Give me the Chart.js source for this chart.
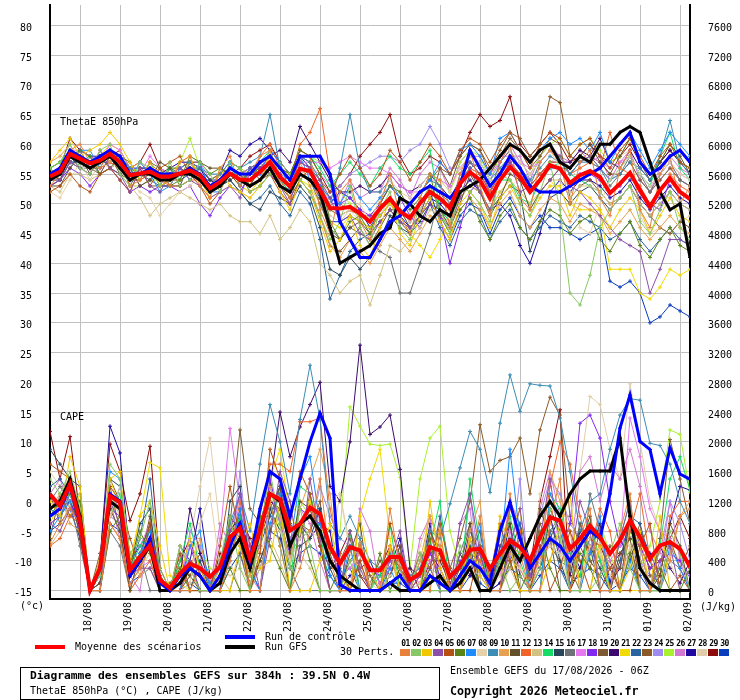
<!DOCTYPE html>
<html><head><meta charset="utf-8">
<script src="https://cdn.jsdelivr.net/npm/chart.js@4.4.1/dist/chart.umd.min.js"></script>
<style>
html,body{margin:0;padding:0;background:#fff;}
#wrap{position:relative;width:740px;height:700px;overflow:hidden;font-family:"DejaVu Sans Mono",monospace;color:#000;}
#c{position:absolute;left:0;top:0;}
.t{position:absolute;font-size:10px;line-height:12px;white-space:nowrap;}
.b{font-weight:bold;}
.ln{position:absolute;height:4px;}
#box{position:absolute;left:20px;top:667px;width:418px;height:31px;border:1px solid #000;}
#sw{position:absolute;left:400px;top:638px;}
.num{position:absolute;top:0;width:11px;font-size:8px;line-height:11px;font-weight:bold;text-align:center;letter-spacing:-0.5px;}
.sq{position:absolute;top:11px;width:10px;height:7px;}
</style></head>
<body><div id="wrap">
<canvas id="c" width="740" height="700"></canvas>
<div class="t" style="left:60px;top:116px">ThetaE 850hPa</div>
<div class="t" style="left:60px;top:411px">CAPE</div>
<div class="t" style="left:20px;top:600px">(°c)</div>
<div class="t" style="left:700px;top:601px">(J/kg)</div>
<div class="ln" style="left:35px;top:645px;width:30px;background:#ff0000"></div>
<div class="t" style="left:75px;top:641px">Moyenne des scénarios</div>
<div class="ln" style="left:225px;top:635px;width:30px;background:#0000ff"></div>
<div class="ln" style="left:225px;top:645px;width:30px;background:#000"></div>
<div class="t" style="left:265px;top:631px">Run de contrôle</div>
<div class="t" style="left:265px;top:641px">Run GFS</div>
<div class="t" style="left:340px;top:646px">30 Perts.</div>
<div id="sw"></div>
<div id="box"></div>
<div class="t b" style="left:30px;top:670px;font-size:11.3px">Diagramme des ensembles GEFS sur 384h : 39.5N 0.4W</div>
<div class="t" style="left:30px;top:685px">ThetaE 850hPa (°C) , CAPE (J/kg)</div>
<div class="t" style="left:450px;top:665px">Ensemble GEFS du 17/08/2026 - 06Z</div>
<div class="t b" style="left:450px;top:685px;font-size:11.6px">Copyright 2026 Meteociel.fr</div>
</div>
<script>
// ---------- DATA ----------
const leadHours = [0,6,12,18,24,30,36,42,48,54,60,66,72,78,84,90,96,102,108,114,120,126,132,138,144,150,156,162,168,174,180,186,192,198,204,210,216,222,228,234,240,246,252,258,264,270,276,282,288,294,300,306,312,318,324,330,336,342,348,354,360,366,372,378,384];
const dateLabels = ["18/08","19/08","20/08","21/08","22/08","23/08","24/08","25/08","26/08","27/08","28/08","29/08","30/08","31/08","01/09","02/09"];
const dateTickHours = [18,42,66,90,114,138,162,186,210,234,258,282,306,330,354,378];
const leftTicks = [-15,-10,-5,0,5,10,15,20,25,30,35,40,45,50,55,60,65,70,75,80];
const rightTicks = [0,400,800,1200,1600,2000,2400,2800,3200,3600,4000,4400,4800,5200,5600,6000,6400,6800,7200,7600];
const memberNames = ["01","02","03","04","05","06","07","08","09","10","11","12","13","14","15","16","17","18","19","20","21","22","23","24","25","26","27","28","29","30"];

// ThetaE 850hPa (°C)
const teMean = [54.6,55.4,58.4,57.6,56.8,57.3,58.4,57.0,54.8,55.1,55.4,54.6,54.6,55.1,55.6,54.8,52.6,53.7,55.1,54.1,54.0,55.4,57.0,54.5,52.9,55.9,55.5,52.3,49.3,49.2,49.5,48.4,47.0,49.2,50.9,48.7,47.6,50.1,52.0,50.9,49.3,53.4,55.3,54.0,50.9,54.0,56.2,54.5,52.0,54.0,56.5,55.9,53.5,54.8,55.5,54.5,51.8,53.4,55.2,52.3,49.5,52.3,54.3,52.0,50.8];
const teCtrl = [55,56,59,58,57,58,59,58,55,55,56,55,55,55,56,55,53,54,56,55,55,57,58,56,54,58,58,58,55,47,44,41,41,44,47,48,50,52,53,52,51,53,59,56,53,55,58,56,53,52,52,52,53,54,55,56,58,60,62,57,55,56,58,59,57];
const teGfs = [54,55,58,57,56,57,58,56,54,55,55,54,54,55,55,54,52,53,55,54,53,54,56,53,52,55,54,52,46,40,41,42,43,45,46,51,50,48,47,49,48,52,53,54,56,58,60,59,57,59,60,57,56,58,57,60,60,62,63,62,57,52,49,50,41];
const te01 = [53,55,59,60,57,56,59,58,53,54,57,55,53,57,58,53,51,56,58,53,55,58,59,54,51,58,58,49,45,52,54,47,44,50,55,48,45,51,55,54,46,55,59,53,48,57,60,51,49,57,59,57,50,57,59,51,48,56,59,49,46,55,58,50,53];
const te02 = [56,57,60,56,55,59,60,55,53,57,56,53,57,53,54,57,55,52,57,56,52,53,55,57,55,54,52,48,44,47,53,46,43,49,52,46,44,50,53,49,45,53,52,50,47,55,54,50,48,52,57,49,35,33,38,46,49,51,53,47,45,49,52,46,44];
const te03 = [57,59,61,58,59,60,62,60,57,54,57,53,54,57,58,54,51,56,53,52,51,53,59,52,49,54,52,47,42,44,48,43,41,46,51,45,43,48,51,47,44,50,52,50,46,51,53,50,48,51,53,53,48,52,51,49,46,49,51,49,45,48,51,48,47];
const te04 = [53,54,57,56,55,59,56,55,52,56,53,52,55,56,54,53,51,52,53,51,56,57,55,53,50,57,56,54,51,47,48,45,44,47,49,47,46,48,50,48,46,51,56,52,49,54,57,52,53,52,54,56,53,52,50,48,46,44,43,42,35,39,44,44,43];
const te05 = [52,53,55,53,52,55,56,54,52,56,53,56,57,58,55,53,50,52,56,55,52,53,55,52,50,54,56,54,52,55,58,56,53,55,59,57,54,57,60,58,55,59,61,60,57,60,62,59,56,60,62,61,58,60,61,58,56,59,61,58,55,58,60,57,56];
const te06 = [56,57,58,59,58,55,56,58,57,54,57,56,53,54,58,57,55,56,55,56,53,57,58,56,55,59,58,55,47,44,47,48,45,50,53,52,49,51,55,48,45,49,51,47,44,48,50,46,44,47,49,48,45,47,48,44,42,45,47,43,41,44,46,43,42];
const te07 = [54,56,58,59,59,56,59,56,54,57,55,52,53,56,54,57,52,52,57,53,56,55,59,57,52,58,54,53,51,50,53,51,49,51,53,51,50,52,54,57,55,59,60,58,55,61,62,59,57,59,61,62,60,61,59,62,57,60,62,59,56,59,62,60,58];
const te08 = [52,51,54,57,54,57,56,57,54,52,51,48,50,52,53,55,51,52,53,52,51,53,55,56,52,55,56,54,50,48,49,50,47,51,54,52,51,53,55,54,52,56,58,57,54,54,59,57,55,57,59,56,52,46,45,50,54,56,58,55,53,55,57,55,54];
const te09 = [55,56,58,58,57,58,59,58,56,55,56,55,55,56,57,56,55,55,57,56,57,58,65,56,54,58,57,54,50,56,65,56,52,52,54,51,50,52,54,53,50,54,56,57,54,56,58,56,54,56,58,57,55,57,57,56,54,55,57,56,54,58,64,57,55];
const te10 = [57,58,60,57,56,59,57,58,56,57,55,56,54,54,57,54,52,55,57,56,53,54,58,53,54,57,53,48,43,41,44,42,40,43,46,44,42,45,48,47,44,49,51,49,46,50,52,48,46,49,51,50,47,50,49,48,45,47,49,46,44,46,48,46,45];
const te11 = [53,53,56,58,55,58,56,55,56,53,54,57,56,53,57,57,56,56,55,53,56,54,55,56,55,58,57,51,45,44,46,47,45,47,49,49,46,48,53,49,46,50,55,52,48,51,55,54,49,52,54,56,56,58,60,57,55,58,61,57,54,57,60,58,55];
const te12 = [55,55,58,57,56,56,57,56,54,54,55,54,53,53,54,54,52,53,55,54,53,58,60,56,54,60,62,66,55,50,49,48,47,49,51,49,48,50,53,52,50,54,56,55,52,55,57,55,53,55,57,57,55,56,57,56,62,56,55,53,50,52,55,53,52];
const te13 = [53,52,55,55,54,55,56,55,53,51,48,50,51,52,51,50,49,50,48,47,47,45,48,44,46,49,47,40,38,35,37,38,33,38,43,42,44,46,49,48,47,51,53,52,49,52,54,52,50,52,54,54,51,53,53,52,50,51,53,50,48,50,52,50,49];
const te14 = [56,57,59,57,58,56,59,58,56,54,57,54,56,54,57,54,52,55,57,53,56,57,59,54,52,58,58,56,53,55,57,55,53,56,58,56,55,57,59,49,47,53,56,52,49,54,54,51,50,54,56,57,55,54,53,52,54,56,58,55,53,58,62,56,54];
const te15 = [53,54,58,56,57,55,56,57,53,56,56,53,53,53,54,56,54,53,54,52,50,49,52,51,50,53,51,46,39,38,41,39,41,44,48,46,45,47,50,49,47,51,53,52,49,51,53,52,42,47,51,52,50,52,53,51,49,51,53,50,48,50,52,50,49];
const te16 = [54,54,57,56,56,57,58,57,54,54,55,55,54,55,55,56,54,54,55,54,53,54,56,54,52,55,54,50,46,44,46,45,44,42,41,35,35,40,45,52,49,55,57,56,52,57,59,56,53,57,59,58,55,57,58,56,53,55,58,55,52,55,57,54,53];
const te17 = [55,56,59,59,58,57,60,59,56,55,58,56,55,56,57,57,54,54,56,55,56,57,57,56,54,57,57,57,56,57,58,57,56,56,55,53,52,52,54,54,53,56,58,58,55,57,60,57,56,57,59,58,55,57,58,57,56,57,58,55,53,55,57,55,54];
const te18 = [54,54,56,55,53,55,56,54,52,53,52,53,53,52,53,50,48,51,53,52,55,56,57,55,54,57,56,53,50,50,51,49,48,50,53,51,48,46,50,48,40,46,52,54,52,55,57,54,52,54,56,56,53,55,55,54,52,53,55,52,50,49,54,52,51];
const te19 = [56,54,57,59,56,55,58,55,54,56,53,53,56,56,55,54,54,53,54,55,53,56,55,53,51,54,52,48,43,42,44,46,43,46,49,47,45,48,50,56,53,58,60,59,55,58,61,59,56,58,61,60,51,53,54,52,50,51,53,50,48,46,45,47,46];
const te20 = [54,56,58,57,56,58,58,58,56,55,56,55,56,55,56,54,52,54,55,55,56,57,58,59,57,63,60,57,54,52,52,53,52,53,55,53,52,53,55,53,51,54,57,55,52,55,57,55,53,55,57,57,57,59,58,61,57,56,59,56,54,57,59,57,55];
const te21 = [56,57,59,58,57,58,60,59,56,55,55,54,55,55,56,55,53,53,55,53,52,54,56,53,51,54,53,50,47,46,48,47,46,48,50,48,45,43,41,44,47,51,53,52,49,52,54,52,50,52,54,52,50,49,49,49,39,39,39,35,34,36,39,38,39];
const te22 = [55,54,57,57,56,57,58,57,55,55,54,53,54,54,55,54,52,53,54,52,50,51,53,50,48,52,50,44,34,38,42,44,45,47,49,47,46,48,50,46,43,47,49,48,44,47,49,46,44,46,48,47,46,48,47,46,44,45,47,44,42,44,46,44,43];
const te23 = [55,56,58,58,57,57,58,57,55,55,56,55,55,55,56,56,54,55,56,55,55,56,58,55,54,57,56,53,49,48,49,48,48,50,53,51,50,52,54,56,55,58,60,59,56,59,62,61,58,60,68,67,58,57,58,57,55,55,57,54,52,54,56,54,53];
const te24 = [54,55,57,57,56,56,57,56,55,55,55,54,55,55,56,56,54,54,55,54,54,55,56,55,53,56,55,53,51,53,55,56,57,58,58,57,59,60,63,60,56,56,58,57,54,57,59,57,55,57,59,58,55,57,58,56,54,55,57,54,52,54,56,54,53];
const te25 = [54,55,57,57,56,57,59,57,53,53,54,54,55,57,61,56,54,55,57,56,55,56,57,56,55,58,58,57,55,52,50,48,47,49,51,49,48,50,52,54,52,57,59,58,54,58,60,57,55,58,60,61,58,60,61,59,57,58,61,57,55,57,60,57,56];
const te26 = [53,54,56,59,58,55,58,56,56,53,54,56,53,56,55,54,54,53,56,55,53,56,58,53,54,55,56,55,53,50,54,51,52,52,56,54,51,55,57,56,52,57,59,56,55,58,58,58,54,58,60,58,57,59,57,58,54,57,59,54,52,56,58,56,55];
const te27 = [55,56,58,59,58,58,59,58,56,56,56,55,56,57,57,56,53,55,59,58,60,61,59,57,55,58,56,52,50,52,51,49,46,48,50,48,46,48,51,50,48,52,54,52,49,50,48,43,40,45,52,54,52,54,54,53,51,52,54,51,49,51,53,51,50];
const te28 = [55,56,58,58,57,57,58,57,55,55,55,54,55,55,56,55,53,54,55,54,54,55,57,54,53,56,55,52,48,47,49,47,46,48,51,49,47,49,52,51,49,53,56,55,52,55,58,56,53,55,57,58,56,54,55,56,57,58,59,48,45,46,45,47,48];
const te29 = [55,56,61,59,58,57,58,59,56,57,60,56,55,56,57,56,54,55,57,56,58,59,60,57,55,59,58,55,52,53,55,58,60,62,65,58,55,56,58,57,55,58,62,65,63,64,68,60,58,60,62,60,57,58,60,58,57,58,60,57,55,57,59,57,56];
const te30 = [54,55,57,57,56,57,57,56,55,55,55,54,54,55,55,54,52,53,55,54,55,55,56,54,52,55,54,51,47,47,48,47,46,49,51,49,47,49,52,47,44,48,50,49,45,49,51,48,46,48,46,46,45,44,45,46,37,36,37,35,30,31,33,32,31];

// CAPE (J/kg)
const cpMean = [1296,1140,1429,940,7,300,1273,1184,273,451,607,140,33,229,362,300,184,318,717,840,429,807,1296,1229,807,896,1117,1029,584,362,584,540,273,273,451,451,140,229,584,540,184,330,550,562,296,496,673,584,407,718,984,940,562,696,873,718,496,673,940,718,429,607,651,562,318];
const cpCtrl = [1000,1100,1400,900,0,300,1300,1200,200,400,700,100,0,200,300,200,0,200,600,900,400,1100,1600,1500,1000,1500,2000,2384,2050,80,0,0,0,0,100,200,0,0,200,100,0,200,400,300,100,800,1184,700,300,500,700,600,400,600,800,700,1300,2184,2629,2006,1896,1300,1917,1567,1496];
const cpGfs = [1100,1200,1500,1000,0,300,1200,1100,200,400,600,0,0,100,300,200,0,100,500,700,300,800,1300,1200,600,900,1000,800,400,200,100,0,0,0,100,0,0,0,100,200,0,100,300,0,0,300,600,400,700,1000,1200,1000,1300,1500,1607,1607,1607,2050,1000,300,100,0,0,0,0];
const cp01 = [640,900,1100,900,0,0,900,700,80,300,600,0,0,0,0,300,0,0,400,900,0,0,1200,600,0,300,800,1500,400,0,0,600,0,0,1100,300,0,0,0,800,0,0,400,1000,0,0,1300,500,0,0,900,1500,0,700,1100,0,0,800,1300,0,0,600,400,1000,1100];
const cp02 = [1500,1300,1600,1100,0,200,1700,1500,500,700,1200,300,0,600,300,0,0,400,1000,300,0,800,1600,900,300,1100,600,0,0,0,400,0,0,300,0,0,0,500,0,0,0,600,300,0,0,400,0,200,0,300,1100,700,0,0,0,200,500,900,300,0,0,0,800,500,0];
const cp03 = [1200,1000,1800,1400,0,400,1500,1600,400,1000,1200,600,0,200,700,300,0,0,0,600,900,300,400,1200,0,0,0,400,900,200,0,1000,300,0,600,0,0,0,1200,300,0,0,700,200,0,1000,600,0,0,0,400,900,1300,0,0,600,0,0,300,800,0,1000,0,0,0];
const cp04 = [900,800,1100,1000,0,0,1200,900,200,300,300,0,0,0,400,0,0,0,800,1300,600,0,700,1600,1200,400,1500,700,0,0,800,300,0,0,400,800,0,200,600,0,0,900,1300,500,0,0,600,1100,200,700,1500,600,400,1200,800,0,0,700,1200,300,0,400,600,0,0];
const cp05 = [1700,1600,1500,800,0,300,1400,1200,700,300,900,200,0,500,0,0,0,600,1400,700,0,500,1900,1500,900,1600,1300,600,0,0,0,400,0,0,900,400,0,0,300,900,300,0,0,600,200,900,400,0,0,600,0,300,800,400,0,0,300,0,0,600,900,0,0,200,0];
const cp06 = [1000,1200,1300,1200,0,0,800,1000,300,800,500,100,0,300,0,0,0,0,300,0,0,1000,600,300,0,900,400,0,0,300,0,0,0,500,0,300,0,0,700,0,0,200,500,0,0,0,400,0,300,800,300,0,0,500,300,0,0,0,500,0,0,300,0,0,300];
const cp07 = [800,1000,1200,1000,0,200,1600,1500,300,500,800,0,0,0,600,800,0,0,500,1100,300,0,900,1300,600,1500,1800,900,200,0,600,0,0,0,300,0,0,0,300,0,0,0,500,900,0,400,1900,700,0,0,1300,1000,0,0,500,1000,0,0,400,0,0,0,600,300,0];
const cp08 = [1000,1200,1300,1000,0,200,1000,1400,200,300,500,0,0,0,100,900,1300,300,200,300,100,500,900,800,400,700,800,700,1200,1300,500,300,100,0,200,300,0,100,300,200,0,100,300,200,0,200,400,300,100,400,600,500,0,0,600,500,200,0,600,400,0,300,400,0,0];
const cp09 = [1100,1000,1300,900,0,300,1200,1100,300,500,700,100,0,200,400,300,100,300,900,1300,800,1700,2500,2000,1300,2300,3030,2300,900,700,1000,700,400,300,500,400,200,300,800,700,1166,1650,2140,1900,1320,2250,2900,2410,2780,2760,2750,2320,1600,800,1200,1300,1900,2360,2580,2560,1980,1950,1700,1200,900];
const cp10 = [1100,1300,900,800,0,400,1000,1200,500,200,700,0,0,600,300,700,0,300,900,600,200,600,1400,1000,400,1100,1500,1900,1300,200,0,700,0,0,500,0,0,400,1000,600,0,0,800,1200,0,0,500,300,0,400,1600,1200,800,0,0,700,300,0,900,600,0,0,500,1000,1200];
const cp11 = [1300,1100,1400,700,0,100,1100,800,0,500,900,0,0,0,200,0,0,0,1000,800,0,400,800,1400,500,1200,1100,600,0,0,500,900,0,0,200,600,0,0,800,500,0,300,900,0,0,600,900,0,0,1100,700,0,0,600,1000,0,0,500,700,0,0,200,900,600,0];
const cp12 = [600,700,1000,900,0,0,900,700,0,200,400,0,0,0,300,0,0,0,500,1200,600,1000,1700,1700,1600,2270,2270,2320,1100,500,0,400,0,0,600,300,0,200,800,300,0,0,700,400,0,300,1100,800,0,500,1400,2000,1700,1000,500,1100,800,0,800,1300,400,200,1000,1200,1200];
const cp13 = [600,800,1200,1100,0,0,1300,1000,0,200,300,0,0,300,0,0,0,200,0,0,0,300,700,400,0,500,300,0,0,0,0,0,0,0,0,0,0,0,0,0,0,0,0,0,0,0,300,0,0,0,400,800,0,0,700,500,0,0,600,0,0,0,0,0,0];
const cp14 = [1000,1200,1300,900,0,200,1000,1300,300,600,800,0,0,400,900,300,0,0,600,1000,0,800,1200,600,0,1400,1300,800,0,0,800,0,0,200,900,0,0,0,600,1200,0,0,1500,600,0,300,1000,400,0,0,1300,1100,500,200,900,400,0,700,1200,300,0,600,1500,1800,1350];
const cp15 = [1900,1700,1500,1400,0,0,1500,1400,300,900,1100,0,0,0,0,400,0,0,1200,1400,300,0,1100,800,0,600,700,1100,300,0,0,700,0,0,0,300,0,0,0,0,0,0,600,0,0,0,700,0,0,300,1000,400,0,0,600,300,0,0,1000,0,0,0,0,0,0];
const cp16 = [1200,1400,1200,600,0,0,800,600,0,500,0,0,0,0,0,0,0,0,0,500,0,300,800,1100,300,0,0,0,0,0,0,0,0,0,0,0,0,0,300,0,0,500,900,300,0,0,0,0,0,0,800,1000,300,0,1300,800,0,0,1100,600,0,0,400,300,0];
const cp17 = [1300,1000,1500,900,0,300,1300,1100,300,600,900,200,0,200,600,400,100,700,2180,1200,500,900,1300,1200,700,900,1100,800,600,200,300,500,300,100,300,600,200,100,400,500,200,0,400,600,300,200,800,300,0,700,600,900,400,600,800,700,400,600,2320,1800,1100,800,700,500,300];
const cp18 = [900,1000,1200,800,0,200,1100,1000,200,400,600,100,0,100,600,200,0,400,500,1100,300,600,1500,900,500,1100,1000,900,600,400,600,500,300,200,400,400,100,200,500,200,0,400,300,500,0,600,400,700,200,400,1000,500,900,2250,2360,2050,1200,600,800,600,300,400,500,400,200];
const cp19 = [700,1300,1000,1100,0,500,1400,800,200,400,1000,200,0,200,400,300,100,300,900,2160,1100,900,1300,1200,700,900,800,1200,300,400,700,200,100,400,200,500,0,400,700,600,200,100,700,200,0,500,300,800,100,900,600,400,300,900,400,200,600,300,900,400,0,700,2030,1500,900];
const cp20 = [1000,1100,1200,900,0,300,1200,1100,200,400,600,100,0,200,1100,500,100,300,800,1000,500,900,1400,2400,1800,2200,2500,2800,1400,1200,2000,3300,2100,2200,2360,1630,300,200,500,300,0,500,200,600,100,300,900,200,0,500,1100,800,200,800,500,900,100,300,1000,400,0,600,300,100,400];
const cp21 = [900,1200,1000,1300,0,300,1500,1100,300,1000,1720,1650,200,100,0,0,0,0,900,600,0,500,1500,1900,1000,800,1200,700,0,0,0,1000,1500,1900,700,0,0,0,500,800,0,0,300,600,0,0,800,1100,0,0,1100,800,300,0,900,400,0,0,0,0,0,0,0,0,0];
const cp22 = [1400,1500,1300,1100,0,300,1000,1400,300,700,1500,200,0,600,400,0,0,400,900,600,300,600,1000,1400,900,700,800,1100,600,200,300,0,0,0,200,600,0,100,300,1000,300,0,500,800,0,400,1100,900,0,600,800,300,0,900,600,0,0,400,1000,900,400,0,0,0,0];
const cp23 = [1300,900,1500,700,0,100,1500,1200,500,300,600,100,100,300,200,500,200,100,900,700,600,1000,1000,1300,900,700,1300,700,500,100,400,600,200,0,500,300,100,500,300,500,300,700,1200,2230,1600,1750,1800,2050,1300,2160,2600,2360,1000,600,300,800,400,0,500,900,200,100,700,300,600];
const cp24 = [1100,1000,1200,1300,0,200,1000,900,100,300,400,0,0,0,800,600,0,0,400,1600,300,0,1400,900,500,700,800,1400,1000,700,600,500,300,0,300,300,0,0,300,200,0,100,1300,200,0,0,400,1500,0,1000,1500,1300,900,700,600,500,200,300,500,400,200,300,1200,900,400];
const cp25 = [900,1000,1300,1200,0,400,1300,1200,300,500,700,100,0,0,300,600,300,200,1000,600,200,900,1400,800,1000,1200,1000,900,500,800,2470,2210,1970,1950,1970,1520,300,1500,2050,2210,800,300,500,400,200,400,600,500,300,600,800,700,200,700,400,900,500,100,800,300,600,1200,2160,2100,1320];
const cp26 = [1300,1500,1100,900,0,300,1200,700,200,0,900,100,0,500,0,0,0,900,600,1300,200,0,900,1000,400,1100,900,400,0,0,0,1100,800,0,600,0,0,700,1000,0,0,900,1100,0,0,400,1200,900,0,1100,1600,1000,400,1600,1800,1200,1700,1500,1900,1400,800,500,1200,400,0];
const cp27 = [1000,1100,1300,900,0,400,2210,1850,400,600,800,100,0,200,400,1100,200,300,700,900,400,800,1200,1100,700,900,700,900,800,0,200,300,400,100,300,700,0,200,900,100,0,200,800,500,0,100,500,900,400,300,700,1000,600,300,900,400,100,700,400,800,500,200,900,1400,1350];
const cp28 = [1600,1400,1300,900,0,0,1000,900,200,300,500,0,0,100,700,1400,2050,800,400,0,0,700,1500,900,0,800,1200,900,500,1300,600,0,0,0,0,300,0,600,1000,700,0,0,900,500,0,300,900,0,0,1300,700,400,900,1600,2610,2500,1900,1500,2780,2000,1200,800,600,400,200];
const cp29 = [2140,1500,2070,1000,0,400,1970,1600,940,1300,1940,300,0,400,700,200,0,500,400,1000,700,700,1100,1400,600,800,1200,600,300,500,800,200,0,300,600,200,300,0,400,400,100,300,500,400,200,400,600,500,300,1200,1800,2430,0,300,700,600,300,500,700,600,300,400,700,1000,700];
const cp30 = [800,900,1100,700,0,100,900,800,100,200,300,0,0,0,100,0,0,0,300,500,100,400,800,700,300,500,600,500,200,0,100,0,0,0,100,100,0,0,200,100,0,0,200,100,0,100,300,200,0,200,400,300,100,200,300,200,0,100,300,200,0,0,0,0,0];

const thetaMembers = [te01,te02,te03,te04,te05,te06,te07,te08,te09,te10,te11,te12,te13,te14,te15,te16,te17,te18,te19,te20,te21,te22,te23,te24,te25,te26,te27,te28,te29,te30];
const capeMembers = [cp01,cp02,cp03,cp04,cp05,cp06,cp07,cp08,cp09,cp10,cp11,cp12,cp13,cp14,cp15,cp16,cp17,cp18,cp19,cp20,cp21,cp22,cp23,cp24,cp25,cp26,cp27,cp28,cp29,cp30];

// ---------- STYLE ----------
const memberColors = ['#e8823a','#88c864','#f0c800','#8c50a8','#b45014','#5a8214','#1e8cff','#e6d2aa','#3c8cb4','#e6a050','#645028','#f06428','#d2c382','#14dc64','#28465a','#6e7378','#e678f0','#8228f0','#7d5a32','#3c0a6e','#f0dc00','#2864a0','#8c5a28','#a08cf0','#aaf032','#d278d2','#1e0aa0','#e1cdaa','#8c0a0a','#0a3cbe'];
const FONT = 'DejaVu Sans Mono';

const sw = document.getElementById('sw');
memberNames.forEach((n,k)=>{
  const d = document.createElement('div'); d.className='num'; d.style.left=(k*11)+'px'; d.textContent=n; sw.appendChild(d);
  const s = document.createElement('div'); s.className='sq'; s.style.left=(k*11)+'px'; s.style.background=memberColors[k]; sw.appendChild(s);
});

const toPts = arr => arr.map((v,k)=>({x: leadHours[k], y: v}));
const datasets = [];
datasets.push({label:'Moyenne ThetaE', data:toPts(teMean), yAxisID:'y', borderColor:'#ff0000', borderWidth:4, pointRadius:0, order:0});
datasets.push({label:'Moyenne CAPE', data:toPts(cpMean), yAxisID:'y2', borderColor:'#ff0000', borderWidth:4, pointRadius:0, order:0});
datasets.push({label:'Controle ThetaE', data:toPts(teCtrl), yAxisID:'y', borderColor:'#0000ff', borderWidth:3, pointStyle:'cross', pointRadius:2, pointBorderWidth:1, pointBorderColor:'#0000ff', order:1});
datasets.push({label:'Controle CAPE', data:toPts(cpCtrl), yAxisID:'y2', borderColor:'#0000ff', borderWidth:3, pointStyle:'cross', pointRadius:2, pointBorderWidth:1, pointBorderColor:'#0000ff', order:1});
datasets.push({label:'GFS ThetaE', data:toPts(teGfs), yAxisID:'y', borderColor:'#000000', borderWidth:3, pointStyle:'cross', pointRadius:2, pointBorderWidth:1, pointBorderColor:'#000', order:2});
datasets.push({label:'GFS CAPE', data:toPts(cpGfs), yAxisID:'y2', borderColor:'#000000', borderWidth:3, pointStyle:'cross', pointRadius:2, pointBorderWidth:1, pointBorderColor:'#000', order:2});
thetaMembers.forEach((arr,k)=>datasets.push({label:'P'+memberNames[k]+' ThetaE', data:toPts(arr), yAxisID:'y', borderColor:memberColors[k], pointBorderColor:memberColors[k], borderWidth:1, pointStyle:'cross', pointRadius:2, pointBorderWidth:1, order:3}));
capeMembers.forEach((arr,k)=>datasets.push({label:'P'+memberNames[k]+' CAPE', data:toPts(arr), yAxisID:'y2', borderColor:memberColors[k], pointBorderColor:memberColors[k], borderWidth:1, pointStyle:'cross', pointRadius:2, pointBorderWidth:1, order:3}));

function zeroPad(s){ s.paddingTop=0; s.paddingBottom=0; s.paddingLeft=0; s.paddingRight=0; }

new Chart(document.getElementById('c'), {
  type:'line',
  data:{datasets},
  options:{
    responsive:false, animation:false, devicePixelRatio:1,
    layout:{padding:0},
    elements:{line:{tension:0, fill:false}},
    plugins:{legend:{display:false}, tooltip:{enabled:false}},
    events:[],
    scales:{
      x:{type:'linear', position:'bottom', min:0, max:384,
        grid:{color:'#c0c0c0', lineWidth:1, drawTicks:false},
        border:{display:true, color:'#000', width:2},
        afterBuildTicks:s=>{ s.ticks = dateTickHours.map(v=>({value:v})); },
        afterFit:s=>{ s.height = 101; zeroPad(s); },
        ticks:{autoSkip:false, minRotation:90, maxRotation:90, padding:3, labelOffset:8, color:'#000',
          font:{family:FONT, size:10},
          callback:(v)=>{ const k = dateTickHours.indexOf(v); return k>=0 ? dateLabels[k] : ''; }}
      },
      y:{type:'linear', position:'left', min:-16.4167, max:83.4167,
        grid:{color:'#c0c0c0', lineWidth:1, drawTicks:false},
        border:{display:true, color:'#000', width:2},
        afterBuildTicks:s=>{ s.ticks = leftTicks.map(v=>({value:v})); },
        afterFit:s=>{ s.width = 50; zeroPad(s); },
        ticks:{padding:18, labelOffset:3, color:'#000', font:{family:FONT, size:10}, callback:v=>String(v)}
      },
      y2:{type:'linear', position:'right', min:-113.33, max:7873.33,
        grid:{drawOnChartArea:false, drawTicks:false},
        border:{display:true, color:'#000', width:2},
        afterBuildTicks:s=>{ s.ticks = rightTicks.map(v=>({value:v})); },
        afterFit:s=>{ s.width = 50; zeroPad(s); },
        ticks:{padding:18, labelOffset:3, color:'#000', font:{family:FONT, size:10}, callback:v=>String(v)}
      }
    }
  }
});
</script>
</body></html>
